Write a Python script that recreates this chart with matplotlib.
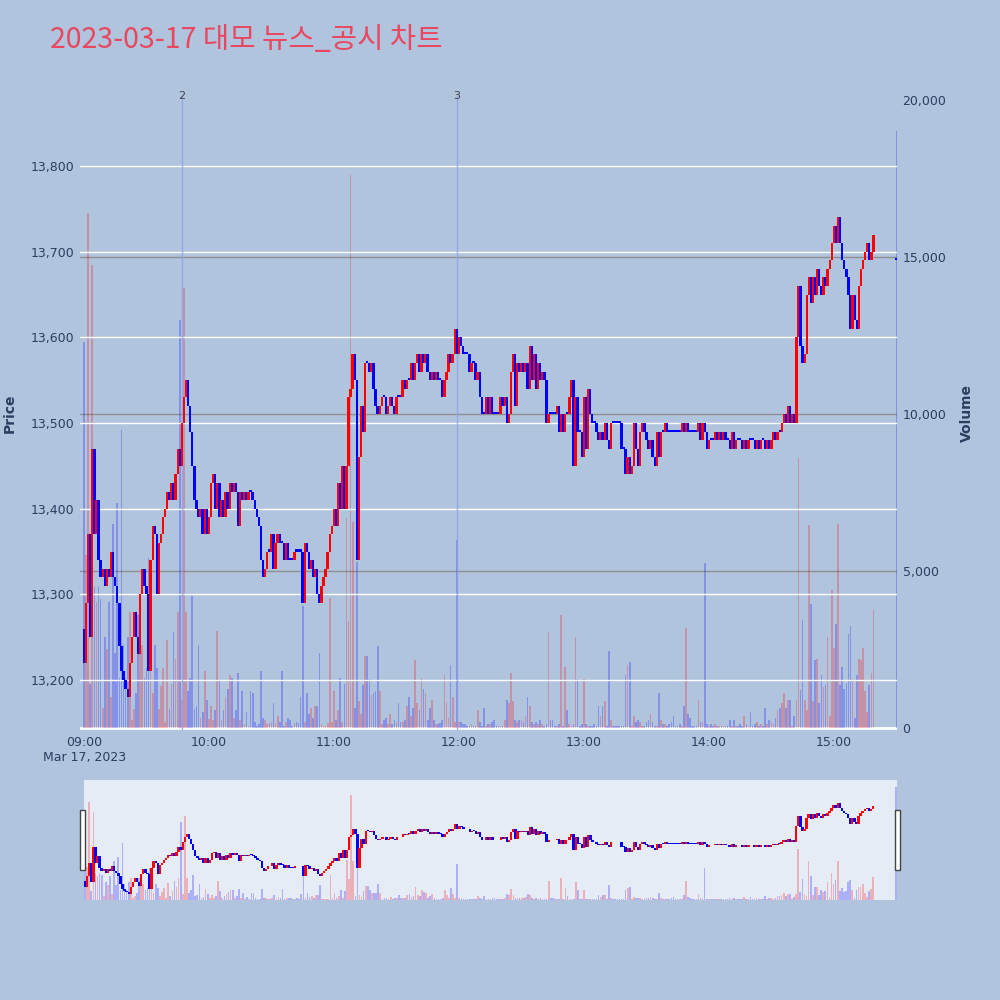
import numpy as np
import pandas as pd
import matplotlib
matplotlib.use('Agg')
import matplotlib.pyplot as plt
import matplotlib.dates as mdates
from matplotlib.ticker import FuncFormatter, FixedLocator
from matplotlib.patches import Rectangle

plt.rcParams['font.family'] = ['DejaVu Sans', 'Noto Sans CJK KR']

# 1-minute closes, 09:00 ~ 15:19 (one list per hour)
close_0900 = [13220, 13290, 13370, 13250, 13470, 13370, 13410, 13340, 13320, 13330,
              13310, 13330, 13320, 13350, 13320, 13310, 13290, 13240, 13210, 13200,
              13190, 13180, 13220, 13250, 13280, 13250, 13230, 13300, 13330, 13310,
              13300, 13210, 13340, 13380, 13370, 13300, 13360, 13370, 13390, 13400,
              13420, 13410, 13430, 13410, 13440, 13470, 13450, 13500, 13530, 13550,
              13520, 13490, 13450, 13410, 13400, 13390, 13400, 13370, 13400, 13370]
close_1000 = [13390, 13430, 13440, 13400, 13430, 13390, 13410, 13390, 13420, 13400,
              13430, 13420, 13430, 13420, 13380, 13420, 13410, 13420, 13410, 13420,
              13420, 13410, 13400, 13390, 13380, 13340, 13320, 13330, 13350, 13350,
              13370, 13330, 13360, 13370, 13360, 13360, 13340, 13360, 13340, 13340,
              13340, 13350, 13350, 13350, 13350, 13290, 13360, 13350, 13330, 13340,
              13320, 13330, 13300, 13290, 13310, 13320, 13330, 13350, 13370, 13380]
close_1100 = [13400, 13380, 13430, 13400, 13450, 13400, 13450, 13530, 13540, 13580,
              13550, 13340, 13460, 13520, 13490, 13570, 13570, 13560, 13570, 13540,
              13520, 13510, 13520, 13530, 13530, 13510, 13520, 13530, 13520, 13510,
              13530, 13530, 13530, 13550, 13540, 13550, 13550, 13570, 13550, 13570,
              13580, 13560, 13580, 13570, 13580, 13560, 13550, 13560, 13550, 13560,
              13550, 13550, 13530, 13550, 13560, 13580, 13570, 13580, 13610, 13580]
close_1200 = [13600, 13590, 13580, 13580, 13580, 13560, 13570, 13570, 13550, 13560,
              13530, 13510, 13510, 13530, 13510, 13530, 13510, 13510, 13510, 13510,
              13530, 13520, 13530, 13500, 13510, 13560, 13580, 13520, 13570, 13560,
              13570, 13560, 13570, 13540, 13590, 13550, 13580, 13540, 13570, 13550,
              13560, 13550, 13500, 13510, 13510, 13510, 13510, 13520, 13490, 13510,
              13490, 13510, 13510, 13530, 13550, 13450, 13530, 13490, 13490, 13460]
close_1300 = [13530, 13470, 13540, 13510, 13500, 13500, 13490, 13480, 13490, 13480,
              13500, 13480, 13470, 13500, 13500, 13500, 13500, 13500, 13470, 13470,
              13440, 13460, 13440, 13450, 13500, 13470, 13450, 13490, 13500, 13490,
              13480, 13470, 13480, 13460, 13450, 13490, 13460, 13490, 13490, 13500,
              13490, 13490, 13490, 13490, 13490, 13490, 13490, 13500, 13490, 13500,
              13490, 13490, 13490, 13490, 13490, 13500, 13480, 13500, 13490, 13470]
close_1400 = [13480, 13480, 13480, 13490, 13480, 13490, 13480, 13490, 13480, 13480,
              13470, 13490, 13470, 13480, 13480, 13480, 13470, 13480, 13470, 13480,
              13480, 13480, 13470, 13480, 13470, 13480, 13480, 13470, 13480, 13470,
              13480, 13490, 13480, 13490, 13490, 13500, 13510, 13500, 13520, 13500,
              13510, 13500, 13600, 13660, 13590, 13570, 13580, 13650, 13670, 13640,
              13670, 13650, 13680, 13660, 13650, 13670, 13660, 13680, 13690, 13710]
close_1500 = [13730, 13710, 13740, 13710, 13690, 13680, 13670, 13650, 13610, 13650,
              13620, 13610, 13660, 13680, 13690, 13700, 13710, 13690, 13700, 13720]
first_open = 13260

# 1-minute volume, same minutes
vol_0900 = [12300, 5500, 16400, 1400, 14750, 4500, 4000, 4500, 4100, 650,
            2900, 2500, 4000, 1000, 6500, 2400, 7150, 1600, 9500, 2650,
            1600, 2900, 3700, 250, 600, 1100, 3600, 4000, 2650, 1600,
            1900, 5400, 2150, 1100, 2650, 1900, 600, 1350, 1900, 200,
            2800, 600, 1400, 3050, 2200, 3700, 13000, 900, 14000, 3700,
            1170, 1600, 4200, 600, 700, 2650, 320, 520, 1800, 900]
vol_1000 = [300, 700, 260, 585, 3100, 1500, 260, 585, 975, 1235,
            1700, 1600, 325, 585, 1750, 260, 1170, 130, 520, 65,
            1170, 1100, 200, 65, 130, 1800, 325, 260, 130, 150,
            200, 780, 150, 390, 200, 1800, 65, 200, 325, 260,
            65, 150, 200, 150, 975, 3900, 200, 1100, 450, 650,
            325, 700, 700, 2400, 130, 65, 65, 150, 4150, 200]
vol_1100 = [1170, 260, 585, 1600, 200, 1400, 6700, 3400, 17600, 6550,
            650, 5300, 845, 455, 1370, 2300, 2300, 1550, 1040, 1100,
            1170, 2600, 1170, 130, 260, 325, 130, 455, 130, 260,
            200, 780, 200, 200, 260, 715, 975, 390, 650, 2150,
            780, 585, 1600, 1235, 1100, 260, 650, 900, 260, 130,
            130, 150, 260, 1700, 780, 325, 2000, 975, 200, 6000]
vol_1200 = [200, 200, 130, 130, 65, 65, 130, 65, 65, 585,
            200, 65, 650, 65, 130, 130, 200, 260, 65, 65,
            65, 65, 260, 900, 780, 1750, 845, 260, 200, 260,
            260, 200, 390, 975, 715, 200, 130, 200, 130, 260,
            130, 65, 130, 3050, 260, 260, 65, 65, 130, 3600,
            65, 1950, 585, 130, 65, 130, 2900, 1550, 65, 130]
vol_1300 = [1550, 130, 65, 65, 65, 130, 65, 700, 390, 700,
            845, 65, 2450, 260, 65, 65, 65, 65, 65, 65,
            1700, 2000, 2100, 65, 390, 200, 260, 200, 65, 65,
            200, 260, 455, 200, 65, 65, 1100, 260, 130, 130,
            65, 130, 200, 390, 65, 65, 130, 65, 700, 3200,
            455, 325, 65, 65, 65, 900, 200, 200, 5250, 130]
vol_1400 = [65, 130, 65, 130, 65, 65, 65, 65, 65, 65,
            260, 65, 260, 65, 65, 130, 65, 390, 130, 65,
            520, 65, 130, 200, 65, 130, 65, 650, 130, 260,
            200, 130, 325, 585, 650, 780, 1100, 650, 900, 900,
            65, 390, 900, 8600, 1200, 3450, 900, 585, 6450, 3950,
            845, 2150, 2200, 780, 1700, 1300, 1370, 2900, 390, 4400]
vol_1500 = [2550, 3300, 6500, 1370, 1950, 1235, 1430, 3000, 3250, 1560,
            325, 1700, 2200, 2150, 2550, 1170, 520, 1370, 1750, 3750]

# closing auction 15:30
auction_price = 13690
auction_volume = 19000

# news / disclosure markers
news_times = ['2023-03-17 09:47', '2023-03-17 11:59']
news_labels = ['2', '3']

close = np.array(close_0900 + close_1000 + close_1100 + close_1200 + close_1300 + close_1400 + close_1500)
volume = np.array(vol_0900 + vol_1000 + vol_1100 + vol_1200 + vol_1300 + vol_1400 + vol_1500)
opens = np.r_[first_open, close[:-1]]

times = pd.date_range('2023-03-17 09:00', periods=len(close), freq='min')
times = times.append(pd.DatetimeIndex(['2023-03-17 15:30']))
close = np.r_[close, auction_price]
opens = np.r_[opens, auction_price]
volume = np.r_[volume, auction_volume]

x = mdates.date2num(times.to_pydatetime())
one_min = 1 / 1440

up = close > opens
cndl_col = np.where(up, '#FF0000', '#0000FF')
body_bot = np.minimum(opens, close)
body_h = np.maximum(np.abs(close - opens), 2.4)

bg = '#B0C4DE'
plot_bg = '#E5ECF6'
txt = '#2a3f5f'

fig = plt.figure(figsize=(10, 10), dpi=100, facecolor=bg)

# main chart: volume underneath (twin), price on top
ax = fig.add_axes([0.080, 0.270, 0.817, 0.634])
axv = ax.twinx()
ax.set_zorder(2)
axv.set_zorder(1)
ax.patch.set_visible(False)
axv.patch.set_facecolor(plot_bg)

axv.bar(x, volume, width=0.8 * one_min, color=np.where(up, '#FF0000', '#0000FF'), alpha=0.25, linewidth=0)
axv.set_ylim(-64, 20127)
axv.yaxis.set_major_locator(FixedLocator([0, 5000, 10000, 15000, 20000]))
axv.yaxis.set_major_formatter(FuncFormatter(lambda v, p: f'{int(v):,}'))
for v in [5000, 10000, 15000]:
    axv.axhline(v, color='#8f8f8f', linewidth=1, zorder=0)
axv.axhline(0, color='white', linewidth=2, zorder=0)

for y in [13200, 13300, 13400, 13500, 13600, 13700, 13800]:
    ax.axhline(y, color='white', linewidth=1, zorder=0)

ax.bar(x, body_h, bottom=body_bot, width=1.15 * one_min, color=cndl_col,
       linewidth=0, zorder=3)

for t, lab in zip(news_times, news_labels):
    xt = mdates.date2num(pd.Timestamp(t).to_pydatetime())
    ax.axvline(xt, color='#8d9ff0', linewidth=1, alpha=0.8, zorder=2)
    ax.text(xt, 1.0, lab, transform=ax.get_xaxis_transform(), ha='center', va='center',
            fontsize=8, color='#444444', zorder=5)

ax.set_ylim(13141.7, 13881.7)
ax.set_xlim(x[0] - 1.9 * one_min, x[0] + 390.3 * one_min)
ax.yaxis.set_major_locator(FixedLocator([13200, 13300, 13400, 13500, 13600, 13700, 13800]))
ax.yaxis.set_major_formatter(FuncFormatter(lambda v, p: f'{int(v):,}'))
ax.xaxis.set_major_locator(mdates.HourLocator())
ax.xaxis.set_major_formatter(mdates.DateFormatter('%H:%M'))

for a in (ax, axv):
    for s in a.spines.values():
        s.set_visible(False)
    a.tick_params(length=0, labelsize=9, labelcolor=txt, pad=4)

ax.set_ylabel('Price', fontsize=10, fontweight='bold', color=txt, labelpad=10)
axv.set_ylabel('Volume', fontsize=10, fontweight='bold', color=txt, labelpad=10)
fig.text(0.085, 0.242, 'Mar 17, 2023', ha='center', va='center', fontsize=9, color=txt)

# range slider
axs = fig.add_axes([0.084, 0.100, 0.813, 0.120])
axs2 = axs.twinx()
axs.set_facecolor(plot_bg)
axs2.set_zorder(axs.get_zorder() + 1)
axs2.patch.set_visible(False)
axs.bar(x, volume, width=0.8 * one_min, color=np.where(up, '#FF0000', '#0000FF'), alpha=0.25, linewidth=0)
axs.set_ylim(-64, 20127)
axs2.bar(x, body_h, bottom=body_bot, width=1.15 * one_min, color=cndl_col, linewidth=0)
axs2.set_ylim(13141.7, 13881.7)
axs.set_xlim(x[0] - 0.5 * one_min, x[-1] + 0.5 * one_min)
for a in (axs, axs2):
    for s in a.spines.values():
        s.set_visible(False)
    a.set_xticks([])
    a.set_yticks([])

for hx in (0.080, 0.895):
    fig.patches.append(Rectangle((hx, 0.130), 0.005, 0.060, transform=fig.transFigure,
                                 facecolor='white', edgecolor='#444444', linewidth=1))

fig.text(0.05, 0.960, '2023-03-17 대모 뉴스_공시 차트', fontsize=20.6, color='#E8475F',
         family=['Noto Sans CJK KR', 'DejaVu Sans'], va='center', ha='left')

fig.savefig('out.png', dpi=100, facecolor=bg)
